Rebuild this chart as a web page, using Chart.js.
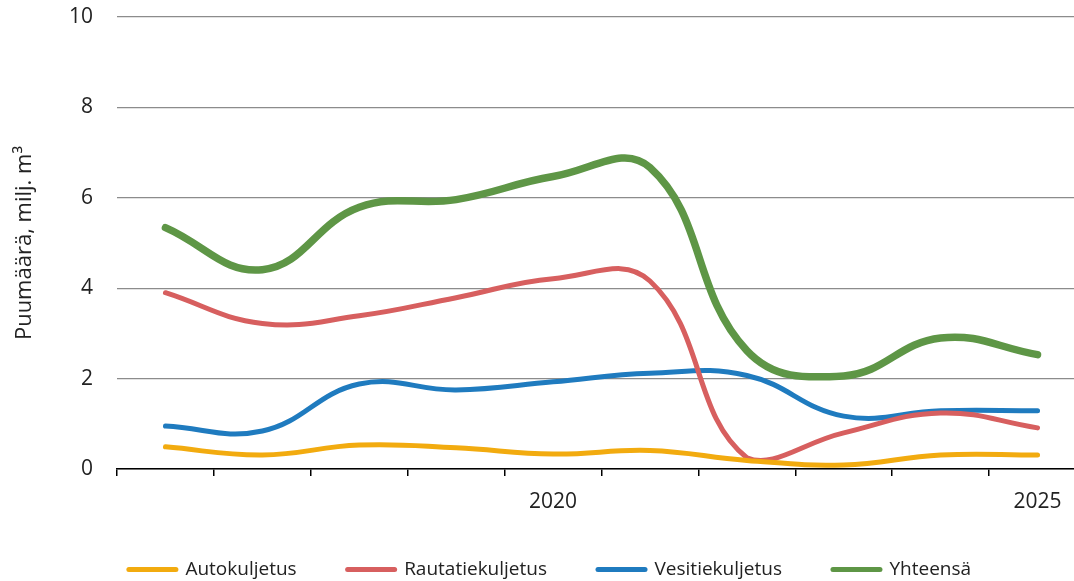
<!DOCTYPE html>
<html>
<head>
<meta charset="utf-8">
<script src="https://cdn.jsdelivr.net/npm/chart.js@4/dist/chart.umd.min.js"></script>
<style>
    html, body { margin: 0; padding: 0; background: #fff; overflow: hidden; }
    #wrap { width: 1100px; height: 600px; }
</style>
</head>
<body>
<div id="wrap"><canvas id="myChart"></canvas></div>
<script>
// vuodet ja kuljetusmuodot (milj. m3)
var years = ['2016', '2017', '2018', '2019', '2020', '2021', '2022', '2023', '2024', '2025'];
var shownYears = ['2020', '2025'];
var autoData = [0.49, 0.31, 0.53, 0.47, 0.33, 0.41, 0.19, 0.09, 0.31, 0.31];
var rautaData = [3.90, 3.22, 3.39, 3.79, 4.21, 4.16, 0.25, 0.80, 1.24, 0.91];
var vesiData = [0.95, 0.84, 1.88, 1.75, 1.93, 2.12, 2.07, 1.17, 1.29, 1.29];
var yhtData = [5.34, 4.41, 5.79, 5.96, 6.47, 6.67, 2.62, 2.06, 2.90, 2.53];
var yTicks = [0, 2, 4, 6, 8, 10];

var FONT = "'Open Sans', sans-serif";
var TXT = '#222';

function makeLine(label, data, color, width) {
    return {
        label: label,
        data: data,
        borderColor: color,
        backgroundColor: color,
        borderWidth: width,
        pointRadius: 0,
        tension: 0.42,
        borderCapStyle: 'round',
        borderJoinStyle: 'round',
        fill: false
    };
}

function renderChart() {
    var ctx = document.getElementById('myChart');
    new Chart(ctx, {
        type: 'line',
        data: {
            labels: years,
            datasets: [
                makeLine('Autokuljetus', autoData, '#f2ab0f', 5),
                makeLine('Rautatiekuljetus', rautaData, '#d75f5f', 5),
                makeLine('Vesitiekuljetus', vesiData, '#1f7bbf', 5),
                makeLine('Yhteensä', yhtData, '#5e9646', 7.5)
            ]
        },
        options: {
            responsive: true,
            maintainAspectRatio: false,
            animation: false,
            layout: { padding: { top: 17, right: 14, left: 14, bottom: 11 } },
            plugins: {
                tooltip: { enabled: false },
                legend: {
                    position: 'bottom',
                    labels: {
                        usePointStyle: true,
                        pointStyle: 'line',
                        pointStyleWidth: 47,
                        padding: 51,
                        color: TXT,
                        font: { family: FONT, size: 19 },
                        generateLabels: function (chart) {
                            var items = Chart.defaults.plugins.legend.labels.generateLabels(chart);
                            items.forEach(function (it) {
                                it.lineWidth = 5;
                                it.lineCap = 'round';
                                it.pointStyle = 'line';
                            });
                            return items;
                        }
                    }
                }
            },
            scales: {
                x: {
                    offset: true,
                    afterFit: function (scale) { scale.height = 40; },
                    grid: {
                        offset: true,
                        drawOnChartArea: false,
                        drawTicks: true,
                        tickLength: 7,
                        color: '#000',
                        lineWidth: 1.5
                    },
                    border: { display: true, color: '#000', width: 1.5 },
                    ticks: {
                        autoSkip: false,
                        maxRotation: 0,
                        padding: 13,
                        color: TXT,
                        font: { family: FONT, size: 21 },
                        callback: function (val) {
                            var lab = this.getLabelForValue(val);
                            return shownYears.indexOf(lab) >= 0 ? lab : '';
                        }
                    }
                },
                y: {
                    min: yTicks[0],
                    max: yTicks[yTicks.length - 1],
                    afterFit: function (scale) { scale.width = 103; },
                    afterBuildTicks: function (scale) {
                        scale.ticks = yTicks.map(function (v) { return { value: v }; });
                    },
                    grid: {
                        color: '#8c8c8c',
                        lineWidth: 1.3,
                        drawTicks: true,
                        tickLength: 24,
                        tickColor: 'rgba(0,0,0,0)'
                    },
                    border: { display: false },
                    ticks: {
                        padding: 0,
                        color: TXT,
                        font: { family: FONT, size: 21 }
                    },
                    title: {
                        display: true,
                        text: 'Puumäärä, milj. m³',
                        color: TXT,
                        font: { family: FONT, size: 22, lineHeight: 1.0 },
                        padding: { top: 0, bottom: 0 }
                    }
                }
            }
        }
    });
}

renderChart();
</script>
</body>
</html>
